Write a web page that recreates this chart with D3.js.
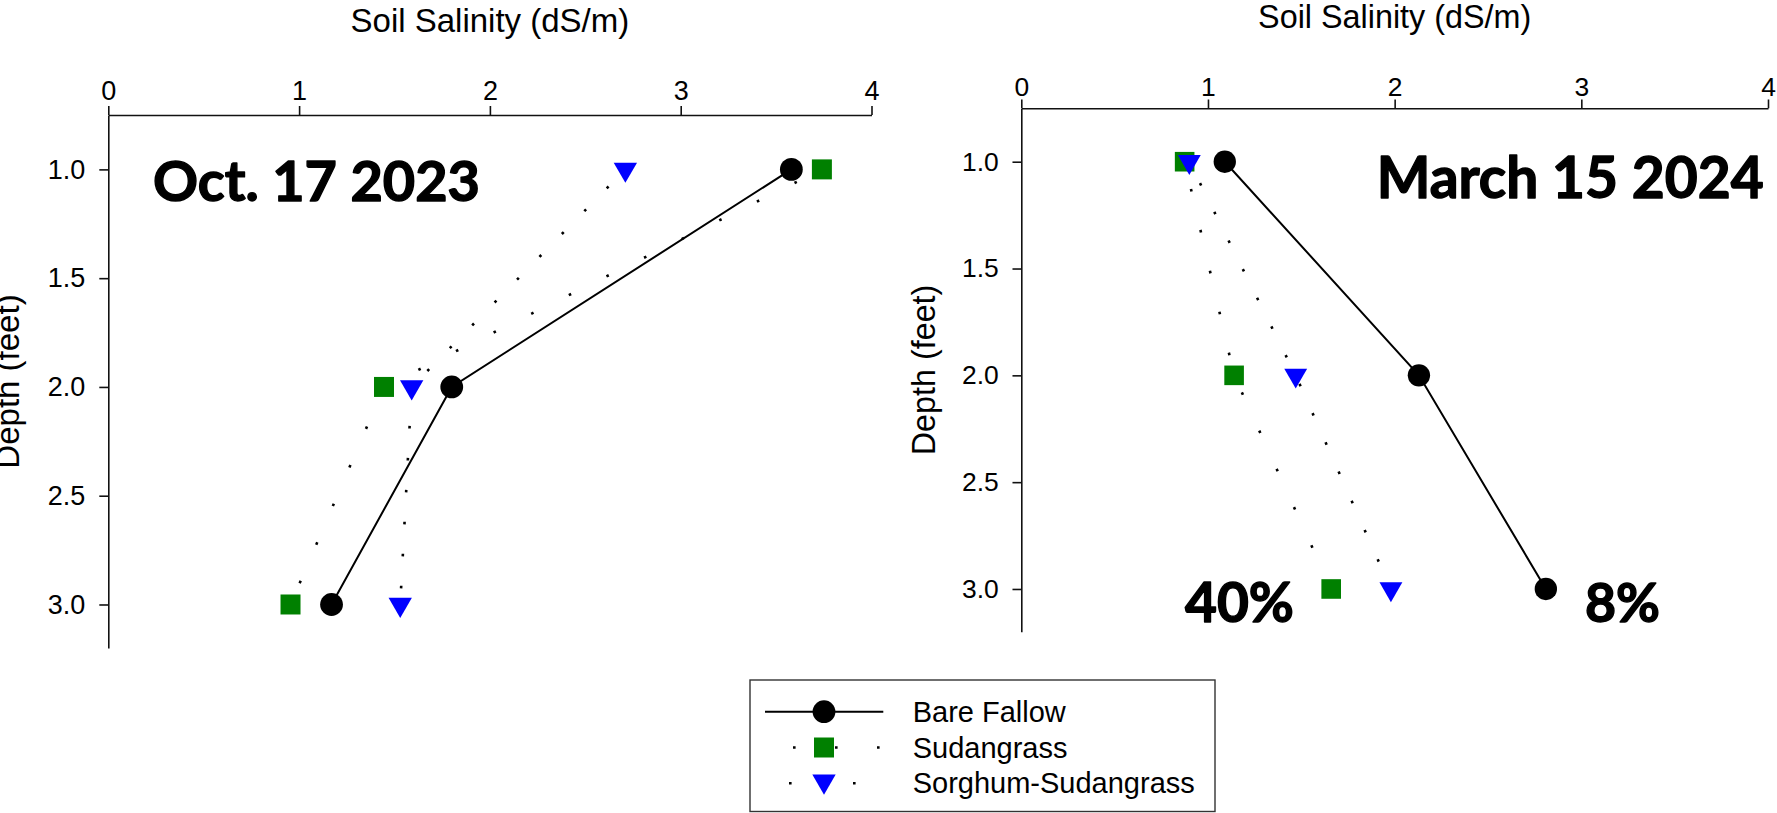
<!DOCTYPE html>
<html><head><meta charset="utf-8">
<script src="https://cdn.jsdelivr.net/npm/d3@7"></script>
<style>
html,body{margin:0;padding:0;background:#fff;}
svg{display:block;}
</style></head><body>
<script>
// ---------------- data ----------------
const depths = [1.0, 2.0, 3.0];
const xTickValues = [0, 1, 2, 3, 4];
const yTickValues = [1.0, 1.5, 2.0, 2.5, 3.0];
const seriesNames = ["Bare Fallow", "Sudangrass", "Sorghum-Sudangrass"];
const octBareFallow = [3.58, 1.80, 1.17];
const octSudangrass = [3.74, 1.445, 0.955];
const octSorghumSudangrass = [2.71, 1.59, 1.53];
const marBareFallow = [1.09, 2.13, 2.81];
const marSudangrass = [0.875, 1.14, 1.66];
const marSorghumSudangrass = [0.90, 1.47, 1.98];
const panelDates = ["Oct. 17 2023", "March 15 2024"];
const marchReductions = ["40%", "8%"];
const xTitle = "Soil Salinity (dS/m)";
const yTitle = "Depth (feet)";

// ---------------- layout / styles ----------------
const W = 1777, H = 813;
const sansFont = "'Liberation Sans', Arial, Helvetica, sans-serif";
const boldFont = "Lato, 'Open Sans', sans-serif";
const svg = d3.select("body").append("svg").attr("width", W).attr("height", H)
  .attr("font-family", sansFont);

const seriesStyles = [
  {type: d3.symbolCircle, area: 408, fill: "#000000", dash: null, offset: 0, rot: 0},
  {type: d3.symbolSquare, area: 400, fill: "#008000", dash: "2.6 39.4", offset: 14, rot: 0},
  {type: d3.symbolTriangle, area: 236, fill: "#0000ff", dash: "2.6 29.4", offset: 8, rot: 180}
];

const panels = [
  {x0: 108.3, x1: 871.5, y0: 115, y1: 648, k: 1.0,
   series: [octBareFallow, octSudangrass, octSorghumSudangrass],
   titleBase: 31.5, xPad: 6, yLabX: 18.5,
   date: panelDates[0], dateX: 153, dateW: 327, dateBase: 201},
  {x0: 1021.3, x1: 1768, y0: 108.3, y1: 631.7, k: 0.98,
   series: [marBareFallow, marSudangrass, marSorghumSudangrass],
   titleBase: 28, xPad: 3.5, yLabX: 934.5,
   date: panelDates[1], dateX: 1376.7, dateW: 387, dateBase: 198}
];

function fitWidth(sel, target) {
  const base = 50;
  sel.attr("font-size", base);
  const w = sel.node().getComputedTextLength();
  const fs = base * target / w;
  sel.attr("font-size", fs);
  return fs;
}
function heavy(sel) {
  return sel.attr("font-family", boldFont).attr("font-weight", 700).attr("fill", "#000")
    .attr("stroke", "#000").attr("stroke-width", 1.4).attr("stroke-linejoin", "round");
}

panels.forEach((p, pi) => {
  const x = d3.scaleLinear().domain([0, 4]).range([p.x0, p.x1]);
  const y = d3.scaleLinear().domain([0.75, 3.2]).range([p.y0, p.y1]);
  const g = svg.append("g");

  // axes
  const xa = g.append("g").attr("transform", `translate(0,${p.y0})`)
    .call(d3.axisTop(x).tickValues(xTickValues).tickFormat(d3.format("d"))
      .tickSize(9 * p.k).tickSizeOuter(0).tickPadding(p.xPad));
  const ya = g.append("g").attr("transform", `translate(${p.x0},0)`)
    .call(d3.axisLeft(y).tickValues(yTickValues).tickFormat(d3.format(".1f"))
      .tickSize(9 * p.k).tickSizeOuter(0).tickPadding(14 * p.k));
  [xa, ya].forEach(a => {
    a.select(".domain").attr("stroke", "#111").attr("stroke-width", 1.6);
    a.selectAll(".tick line").attr("stroke", "#111").attr("stroke-width", 1.6);
    a.selectAll(".tick text").attr("fill", "#000").attr("font-size", 27 * p.k)
      .attr("font-family", sansFont);
  });

  // axis titles
  g.append("text").attr("x", (p.x0 + p.x1) / 2).attr("y", p.titleBase)
    .attr("text-anchor", "middle").attr("font-size", 33 * p.k).attr("fill", "#000")
    .text(xTitle);
  g.append("text")
    .attr("transform", `translate(${p.yLabX},${(p.y0 + p.y1) / 2}) rotate(-90)`)
    .attr("text-anchor", "middle").attr("font-size", 33 * p.k).attr("fill", "#000")
    .text(yTitle);

  // lines
  const line = d3.line().x(d => x(d.v)).y(d => y(d.d));
  p.series.forEach((vals, si) => {
    const st = seriesStyles[si];
    const pts = vals.map((v, i) => ({v: v, d: depths[i]}));
    const path = g.append("path").datum(pts).attr("d", line)
      .attr("fill", "none").attr("stroke", "#000")
      .attr("stroke-width", st.dash ? 2.6 : 2);
    if (st.dash) path.attr("stroke-dasharray", st.dash).attr("stroke-dashoffset", st.offset);
  });
  // markers
  p.series.forEach((vals, si) => {
    const st = seriesStyles[si];
    const sym = d3.symbol().type(st.type).size(st.area * p.k * p.k);
    g.selectAll(null).data(vals.map((v, i) => ({v: v, d: depths[i]}))).join("path")
      .attr("d", sym)
      .attr("transform", d => `translate(${x(d.v)},${y(d.d)}) rotate(${st.rot})`)
      .attr("fill", st.fill);
  });

  // date label
  const dt = heavy(g.append("text").attr("x", p.dateX).attr("y", p.dateBase).text(p.date));
  fitWidth(dt, p.dateW);

  if (pi === 1) {
    const pos = [{cx: 1239.5, w: 109}, {cx: 1622.5, w: 75}];
    marchReductions.forEach((t, i) => {
      const a = heavy(g.append("text").attr("x", pos[i].cx).attr("y", 621.7)
        .attr("text-anchor", "middle").text(t));
      fitWidth(a, pos[i].w);
    });
  }
});

// ---------------- legend ----------------
const lg = svg.append("g");
lg.append("rect").attr("x", 750).attr("y", 680).attr("width", 465).attr("height", 131.5)
  .attr("fill", "#fff").attr("stroke", "#333").attr("stroke-width", 1.4);
const rowY = [711.7, 747.5, 783.3];
seriesNames.forEach((name, i) => {
  const st = seriesStyles[i];
  const ln = lg.append("line").attr("x1", 765).attr("x2", 883.3)
    .attr("y1", rowY[i]).attr("y2", rowY[i]).attr("stroke", "#000")
    .attr("stroke-width", st.dash ? 2.6 : 2);
  if (st.dash) ln.attr("stroke-dasharray", st.dash).attr("stroke-dashoffset", st.offset);
  lg.append("path").attr("d", d3.symbol().type(st.type).size(st.area)())
    .attr("transform", `translate(824,${rowY[i] - (i === 2 ? 2 : 0)}) rotate(${st.rot})`)
    .attr("fill", st.fill);
  lg.append("text").attr("x", 912.7).attr("y", rowY[i] + 10)
    .attr("font-size", 29).attr("fill", "#000").text(name);
});
</script>
</body></html>
